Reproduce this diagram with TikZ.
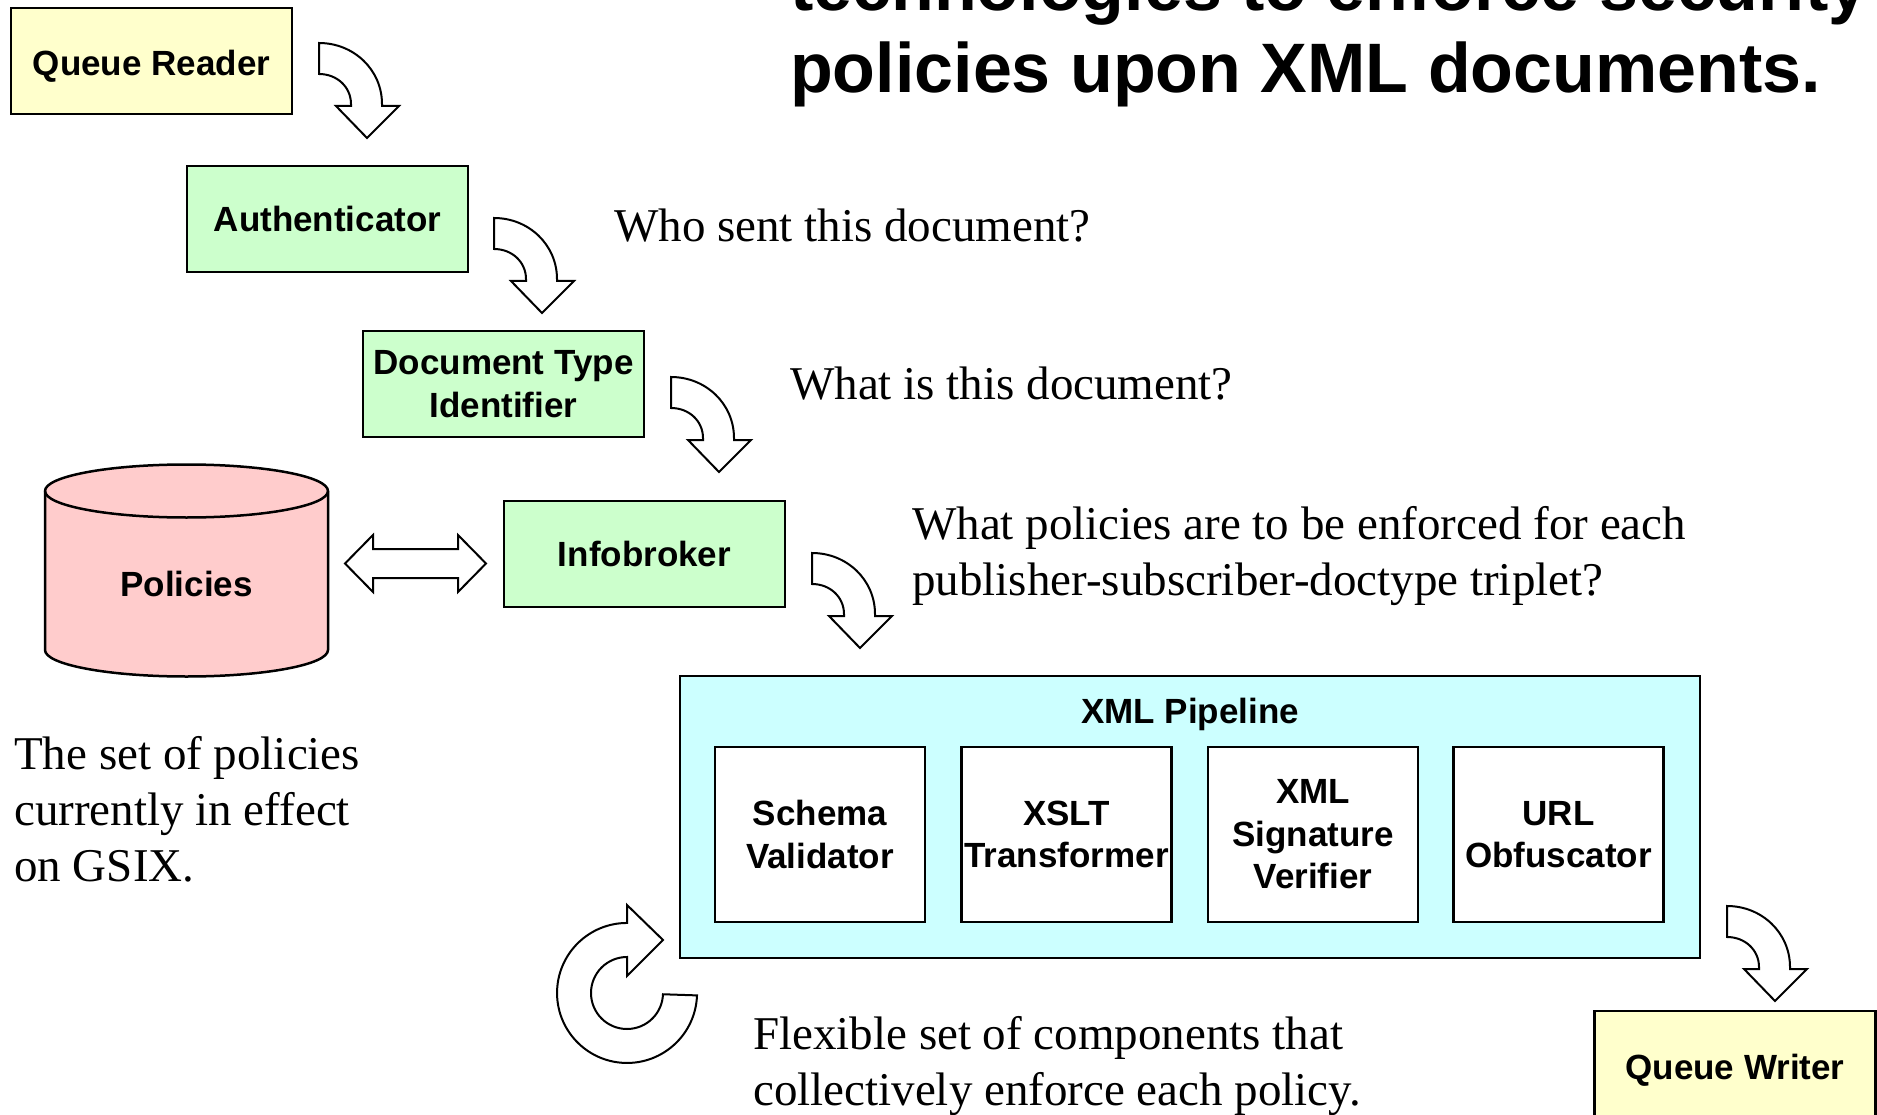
\documentclass[tikz,border=0pt]{standalone}
\usepackage{fontspec}
\setmainfont{Liberation Serif}
\newfontfamily\arialf{Liberation Sans}
\definecolor{qyellow}{HTML}{FFFFCC}
\definecolor{qgreen}{HTML}{CCFFCC}
\definecolor{qpink}{HTML}{FFCCCC}
\definecolor{qcyan}{HTML}{CCFFFF}
\begin{document}
\begin{tikzpicture}[x=1pt,y=-1pt,
  boxlbl/.style={font=\arialf\bfseries\fontsize{35}{42.5}\selectfont, align=center, inner sep=0pt},
  stagebox/.style={boxlbl, draw, line width=2.5pt, minimum width=281pt, minimum height=106pt},
  innerbox/.style={boxlbl, draw, line width=2.5pt, fill=white, minimum width=210pt, minimum height=175pt},
  serif/.style={font=\fontsize{47}{56}\selectfont, anchor=base west, inner sep=0pt},
  titletxt/.style={font=\arialf\bfseries\fontsize{70}{82}\selectfont, anchor=base west, inner sep=0pt},
  blockline/.style={draw, line width=2pt, fill=white, line join=miter},
  curvarrow/.pic={\path[blockline] (0,31) -- (0,0) .. controls (35,0) and (63,27) .. (63,61) -- (63,63) -- (80,63) -- (48,95) -- (17,63) -- (32,63) -- (32,61) .. controls (32,44) and (18,31) .. (0,31) -- cycle;}
]
\useasboundingbox (0,0) rectangle (1877,1115);
\fill[white] (0,0) rectangle (1877,1115);

% title (partly cut off at the top, as in the reference)
\node[titletxt] (title1) at (790,11) {technologies to enforce security};
\node[titletxt] (title2) at (790,93) {policies upon XML documents.};

% stages
\node[stagebox, fill=qyellow, text height=32pt, text depth=2pt] (reader) at (151.5,61) {Queue Reader};
\node[stagebox, fill=qgreen] (auth) at (327.5,219) {Authenticator};
\node[stagebox, fill=qgreen] (doctype) at (503.5,384) {Document Type\\Identifier};
\node[stagebox, fill=qgreen] (info) at (644.5,554) {Infobroker};
\node[stagebox, fill=qyellow, text height=32pt, text depth=2pt] (writer) at (1735,1064) {Queue Writer};

% curved block arrows
\pic at (319,43) {curvarrow};
\pic at (494,218) {curvarrow};
\pic at (671,377) {curvarrow};
\pic at (812,553) {curvarrow};
\pic at (1727,906) {curvarrow};

% policies cylinder
\path[draw, line width=2.5pt, fill=qpink] (45,491) -- (45,650)
  arc[start angle=180, end angle=360, x radius=141.5pt, y radius=26.5pt]
  -- (328,491)
  arc[start angle=0, end angle=180, x radius=141.5pt, y radius=26.5pt] -- cycle;
\draw[line width=2.5pt] (45,491) arc[start angle=180, end angle=360, x radius=141.5pt, y radius=26.5pt];
\node[boxlbl] (policies) at (186.5,584) {Policies};

% double arrow
\path[blockline] (345,563.5) -- (373,535) -- (373,549) -- (458,549) -- (458,535) -- (486,563.5)
  -- (458,592) -- (458,578) -- (373,578) -- (373,592) -- cycle;

% XML pipeline
\node[draw, line width=2.5pt, fill=qcyan, minimum width=1020pt, minimum height=282pt, inner sep=0pt] (pipe) at (1190,817) {};
\node[boxlbl] (pipelbl) at (1190,714) {XML Pipeline};
\node[innerbox] (schema) at (820,834.5) {Schema\\Validator};
\node[innerbox] (xslt) at (1066.5,834.5) {XSLT\\Transformer};
\node[innerbox] (xmlsig) at (1313,834.5) {XML\\Signature\\Verifier};
\node[innerbox] (url) at (1558.5,834.5) {URL\\Obfuscator};

% circular arrow
\path[blockline] (627,905) -- (663,940) -- (627,976) -- (627,957)
  arc[start angle=90, end angle=358, radius=36pt] -- (697,995.4)
  arc[start angle=358, end angle=90, radius=70pt] -- cycle;

% annotations
\node[serif] (q1) at (614,241.5) {Who sent this document?};
\node[serif] (q2) at (790,399) {What is this document?};
\node[serif] (q3a) at (912,539.5) {What policies are to be enforced for each};
\node[serif] (q3b) at (912,595.5) {publisher-subscriber-doctype triplet?};
\node[serif] (p1) at (14,769.5) {The set of policies};
\node[serif] (p2) at (14,825.5) {currently in effect};
\node[serif] (p3) at (14,881.5) {on GSIX.};
\node[serif] (f1) at (753,1049.5) {Flexible set of components that};
\node[serif] (f2) at (753,1105.5) {collectively enforce each policy.};
\end{tikzpicture}
\end{document}
